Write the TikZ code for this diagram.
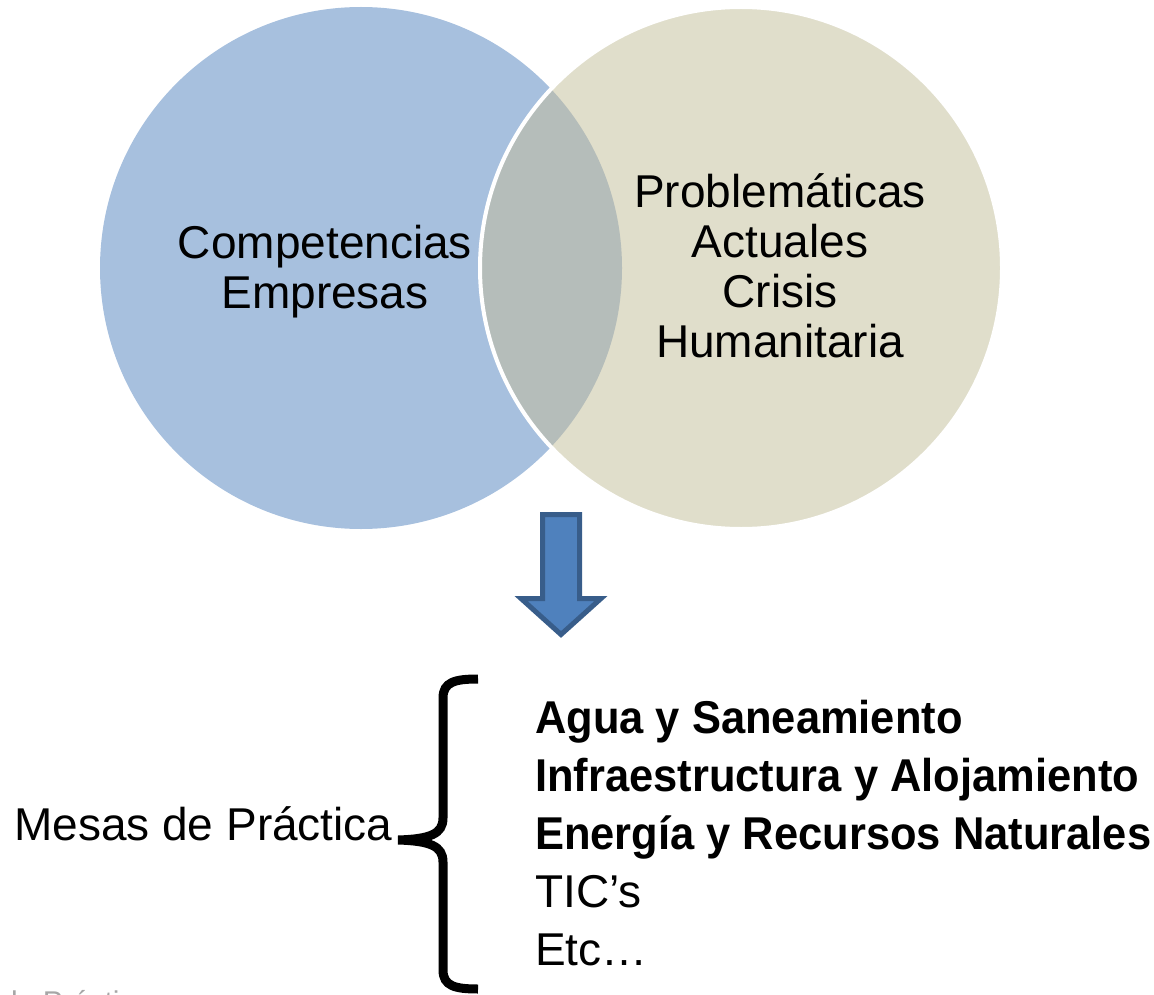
\documentclass[tikz,border=0pt]{standalone}
\usepackage{fontspec}
\setmainfont{Liberation Sans}[BoldFeatures={FakeStretch=0.945}]

\definecolor{empresasblue}{RGB}{167,192,222}
\definecolor{crisisbeige}{RGB}{224,222,203}
\definecolor{overlapgrey}{RGB}{181,189,186}
\definecolor{arrowfill}{RGB}{79,129,189}
\definecolor{arrowedge}{RGB}{56,93,138}

\begin{document}
\begin{tikzpicture}[x=1pt, y=-1pt,
		venntext/.style={align=center, inner sep=0pt, anchor=base, font=\fontsize{46}{50}\selectfont},
		listtext/.style={align=left, inner sep=0pt, anchor=base west, font=\fontsize{46}{58}\selectfont}]
		\useasboundingbox (0, 0) rectangle (1154, 995);

		% the two sets
		\fill[empresasblue]	(361, 268) circle[radius=261pt];
		\fill[crisisbeige]	(741, 268) circle[radius=261pt];
		\begin{scope}
			\clip (361, 268) circle[radius=261pt];
			\fill[overlapgrey] (741, 268) circle[radius=261pt];
		\end{scope}
		\draw[white, line width=4pt]	(741, 268) circle[radius=261pt];

		% base = last line
		\node[venntext] (empresas)	at (325, 308) {Competencias\\Empresas};
		\node[venntext] (crisis)	at (780, 357) {Problemáticas\\Actuales\\Crisis\\Humanitaria};

		% block arrow
		\draw[arrowedge, fill=arrowfill, line width=5pt, line join=miter]
			(542.5, 514.5) -- (579.5, 514.5) -- (579.5, 598.5) -- (601, 598.5)
			-- (561, 634.5) -- (521, 598.5) -- (542.5, 598.5) -- cycle;

		\node[listtext] (mesas)		at (14, 840) {Mesas de Práctica};
		\node[listtext] (mesasList)	at (535, 965) {\textbf{Agua y Saneamiento}\\\textbf{Infraestructura y Alojamiento}\\\textbf{Energía y Recursos Naturales}\\TIC’s\\Etc…};
		\node[anchor=base west, inner sep=0pt, text=black!35, font=\fontsize{30}{36}\selectfont] (fragment) at (11, 1012) {la Práctica};

		% brace
		\draw[black, line width=9pt]	(478, 679) .. controls (455, 679) and (443, 682) .. (443, 698) -- (443, 818)
			.. controls (443, 834) and (430, 839) .. (398, 840)
			.. controls (430, 841) and (443, 846) .. (443, 862) -- (443, 970)
			.. controls (443, 986) and (455, 989) .. (478, 989);
	\end{tikzpicture}
\end{document}
